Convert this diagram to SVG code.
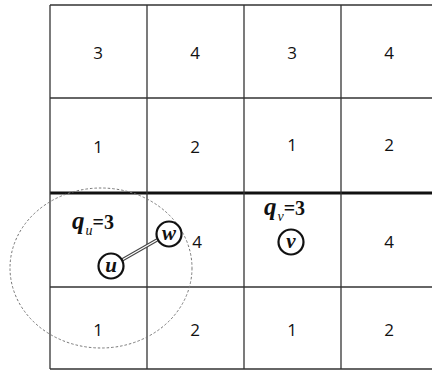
<svg xmlns="http://www.w3.org/2000/svg" width="432" height="372" viewBox="0 0 432 372">
<style>
.g{stroke:#333;stroke-width:1.3;fill:none}
.n{font-family:"Open Sans","DejaVu Sans",sans-serif;font-size:17px;fill:#111;text-anchor:middle;dominant-baseline:central}
.c{fill:#fff;stroke:#111;stroke-width:2.2}
.l{font-family:"Liberation Serif",serif;font-style:italic;font-weight:bold;font-size:21px;fill:#111;text-anchor:middle;dominant-baseline:central}
.q{font-family:"Liberation Serif",serif;fill:#111}
</style>
<rect width="432" height="372" fill="#fff"/>
<g id="grid">
<line class="g" x1="50" y1="5" x2="432" y2="5"/>
<line class="g" x1="50" y1="98" x2="432" y2="98"/>
<line x1="50" y1="193" x2="432" y2="193" stroke="#111" stroke-width="3"/>
<line class="g" x1="50" y1="287" x2="432" y2="287"/>
<line class="g" x1="50" y1="369" x2="432" y2="369"/>
<line class="g" x1="50" y1="5" x2="50" y2="369"/>
<line class="g" x1="147" y1="5" x2="147" y2="369"/>
<line class="g" x1="244" y1="5" x2="244" y2="369"/>
<line class="g" x1="341" y1="5" x2="341" y2="369"/>
</g>
<g id="labels">
<text class="n" x="98" y="52">3</text>
<text class="n" x="195" y="52">4</text>
<text class="n" x="292" y="52">3</text>
<text class="n" x="389" y="52">4</text>
<text class="n" x="98" y="146">1</text>
<text class="n" x="195" y="146">2</text>
<text class="n" x="292" y="144">1</text>
<text class="n" x="389" y="144">2</text>
<text class="n" x="197" y="241">4</text>
<text class="n" x="389" y="241">4</text>
<text class="n" x="98" y="329">1</text>
<text class="n" x="195" y="329">2</text>
<text class="n" x="292" y="329">1</text>
<text class="n" x="389" y="329">2</text>
</g>
<ellipse id="range" cx="101" cy="268" rx="91" ry="80" fill="none" stroke="#777" stroke-width="1" stroke-dasharray="2.5,2"/>
<g id="connectors">
<line x1="122" y1="260" x2="157" y2="240" stroke="#444" stroke-width="3.2"/>
<line x1="122" y1="260" x2="157" y2="240" stroke="#fff" stroke-width="1.2"/>
</g>
<g id="qu"><text class="q" x="72" y="229"><tspan font-style="italic" font-weight="bold" font-size="25">q</tspan><tspan font-style="italic" font-size="14" dx="1" dy="6">u</tspan><tspan font-weight="bold" font-size="20" dy="-6">=3</tspan></text></g>
<g id="qv"><text class="q" x="264" y="215"><tspan font-style="italic" font-weight="bold" font-size="25">q</tspan><tspan font-style="italic" font-size="14" dx="1" dy="6">v</tspan><tspan font-weight="bold" font-size="20" dy="-6">=3</tspan></text></g>
<g id="u"><circle class="c" cx="111" cy="266" r="12.5"/><text class="l" x="111" y="265">u</text></g>
<g id="w"><circle class="c" cx="169" cy="234" r="12.5"/><text class="l" x="169" y="233">w</text></g>
<g id="v"><circle class="c" cx="291" cy="242" r="12.5"/><text class="l" x="291" y="241">v</text></g>
</svg>
